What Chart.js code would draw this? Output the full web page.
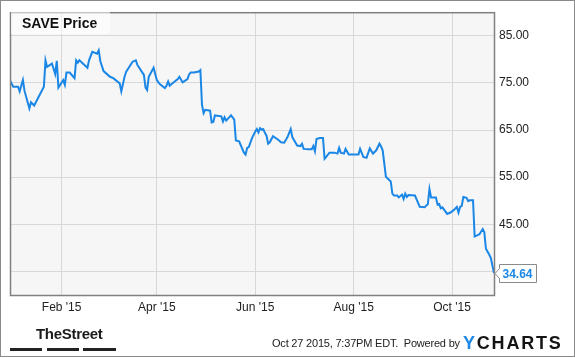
<!DOCTYPE html>
<html>
<head>
<meta charset="utf-8">
<script src="https://cdn.jsdelivr.net/npm/chart.js@4.4.1/dist/chart.umd.min.js"></script>
<style>
  body { margin: 0; background: #fff; }
  #wrap { position: relative; width: 575px; height: 358px; font-family: "Liberation Sans", Arial, sans-serif; }
  #wrap canvas { position: absolute; left: 0; top: 0; }
  .title { position: absolute; left: 11px; top: 11px; width: 99px; height: 23px; background: rgba(255,255,255,0.55); }
  .title span { position: absolute; left: 11px; top: 5px; font: bold 14px/14px "Liberation Sans", Arial, sans-serif; color: #111; }
  .street { position: absolute; left: 36px; top: 326px; font: bold 15px/15px "Liberation Sans Narrow", "Liberation Sans", sans-serif; color: #1a1a1a; letter-spacing: -0.3px; }
  .bar { position: absolute; top: 348px; height: 3px; background: #222; }
  .stamp { position: absolute; left: 272px; top: 338px; font: 11px/11px "Liberation Sans", Arial, sans-serif; color: #222; white-space: pre; letter-spacing: -0.2px; }
  .ycharts { position: absolute; left: 463px; top: 334px; font: bold 18px/18px "Liberation Sans", Arial, sans-serif; color: #141414; letter-spacing: 1.8px; }
  .ycharts b { color: #1e88e5; }
</style>
</head>
<body>
<div id="wrap">
  <canvas id="priceChart" width="575" height="358"></canvas>
  <div class="title"><span>SAVE Price</span></div>
  <div class="street">TheStreet</div>
  <div class="bar" style="left:10px;width:32px"></div>
  <div class="bar" style="left:47px;width:32px"></div>
  <div class="bar" style="left:83px;width:33px"></div>
  <div class="stamp">Oct 27 2015, 7:37PM EDT.  Powered by</div>
  <div class="ycharts"><b>Y</b>CHARTS</div>
</div>
<script>
// SAVE closing prices
const dates = [
  "2014-12-31", "2015-01-02", "2015-01-05", "2015-01-06", "2015-01-08", "2015-01-09", "2015-01-12", "2015-01-13",
  "2015-01-15", "2015-01-21", "2015-01-22", "2015-01-23", "2015-01-26", "2015-01-28", "2015-01-29", "2015-01-30",
  "2015-02-02", "2015-02-03", "2015-02-04", "2015-02-06", "2015-02-09", "2015-02-10", "2015-02-11", "2015-02-12",
  "2015-02-17", "2015-02-18", "2015-02-20", "2015-02-23", "2015-02-24", "2015-02-25", "2015-02-27", "2015-03-03",
  "2015-03-05", "2015-03-09", "2015-03-10", "2015-03-12", "2015-03-13", "2015-03-17", "2015-03-19", "2015-03-20",
  "2015-03-24", "2015-03-25", "2015-03-26", "2015-03-27", "2015-03-30", "2015-04-01", "2015-04-02", "2015-04-03",
  "2015-04-06", "2015-04-07", "2015-04-08", "2015-04-09", "2015-04-10", "2015-04-14", "2015-04-15", "2015-04-17",
  "2015-04-20", "2015-04-21", "2015-04-22", "2015-04-24", "2015-04-27", "2015-04-28", "2015-04-29", "2015-04-30",
  "2015-05-01", "2015-05-04", "2015-05-05", "2015-05-06", "2015-05-07", "2015-05-11", "2015-05-12", "2015-05-13",
  "2015-05-14", "2015-05-17", "2015-05-19", "2015-05-20", "2015-05-22", "2015-05-25", "2015-05-26", "2015-05-27",
  "2015-05-28", "2015-05-30", "2015-06-01", "2015-06-02", "2015-06-03", "2015-06-04", "2015-06-05", "2015-06-06",
  "2015-06-07", "2015-06-08", "2015-06-09", "2015-06-10", "2015-06-12", "2015-06-15", "2015-06-17", "2015-06-19",
  "2015-06-21", "2015-06-23", "2015-06-24", "2015-06-26", "2015-06-27", "2015-06-29", "2015-06-30", "2015-07-01",
  "2015-07-04", "2015-07-06", "2015-07-07", "2015-07-08", "2015-07-09", "2015-07-11", "2015-07-13", "2015-07-14",
  "2015-07-15", "2015-07-17", "2015-07-20", "2015-07-22", "2015-07-23", "2015-07-24", "2015-07-26", "2015-07-27",
  "2015-07-29", "2015-08-01", "2015-08-04", "2015-08-05", "2015-08-07", "2015-08-09", "2015-08-11", "2015-08-13",
  "2015-08-15", "2015-08-17", "2015-08-18", "2015-08-19", "2015-08-21", "2015-08-24", "2015-08-25", "2015-08-26",
  "2015-08-28", "2015-08-29", "2015-08-31", "2015-09-01", "2015-09-02", "2015-09-03", "2015-09-04", "2015-09-08",
  "2015-09-11", "2015-09-14", "2015-09-16", "2015-09-17", "2015-09-18", "2015-09-21", "2015-09-22", "2015-09-23",
  "2015-09-24", "2015-09-25", "2015-09-28", "2015-09-30", "2015-10-02", "2015-10-04", "2015-10-05", "2015-10-06",
  "2015-10-07", "2015-10-08", "2015-10-10", "2015-10-11", "2015-10-12", "2015-10-14", "2015-10-15", "2015-10-18",
  "2015-10-20", "2015-10-21", "2015-10-22", "2015-10-24", "2015-10-25", "2015-10-27"
];
const prices = [
  75.5, 74.2, 74.2, 73.2, 75.6, 73.3, 69.6, 70.9,
  70.2, 74.2, 79.8, 78.4, 79.1, 76.9, 79.7, 74.0,
  75.6, 74.6, 77.2, 77.2, 76.0, 79.8, 79.3, 79.8,
  78.2, 79.8, 81.6, 81.2, 81.9, 79.6, 77.5, 76.3,
  76.0, 74.9, 73.2, 76.3, 77.4, 79.5, 79.8, 78.8,
  76.7, 74.0, 73.5, 76.3, 78.2, 75.6, 75.1, 74.7,
  73.9, 74.4, 75.3, 74.4, 74.7, 75.8, 76.3, 75.1,
  75.8, 76.8, 77.2, 77.2, 77.4, 77.7, 70.4, 68.6,
  69.3, 69.1, 66.6, 66.7, 68.1, 67.9, 66.8, 67.7,
  67.0, 68.1, 67.2, 62.8, 62.6, 60.2, 59.8, 61.2,
  61.4, 63.3, 64.7, 65.2, 64.5, 65.4, 65.1, 65.2,
  64.4, 63.8, 62.1, 62.4, 63.7, 63.0, 62.4, 62.3,
  63.5, 65.2, 63.5, 62.3, 61.7, 61.6, 62.1, 61.0,
  60.9, 60.9, 61.6, 60.5, 63.1, 63.3, 63.3, 58.9,
  59.3, 60.2, 60.2, 60.0, 61.2, 60.2, 60.0, 61.0,
  59.8, 59.8, 59.8, 61.0, 59.3, 59.1, 61.1, 60.0,
  60.7, 62.1, 61.5, 60.7, 55.1, 54.1, 51.5, 51.1,
  51.1, 50.7, 51.3, 50.4, 51.5, 50.8, 51.2, 51.1,
  48.7, 48.6, 49.3, 52.5, 50.7, 50.7, 49.2, 49.3,
  48.4, 48.6, 47.2, 47.5, 48.0, 48.7, 47.5, 48.7,
  48.9, 50.8, 50.6, 49.9, 50.1, 50.1, 42.4, 42.9,
  44.0, 43.3, 39.8, 38.6, 37.9, 34.64
];

const tickDates = ["2015-02-01", "2015-04-01", "2015-06-01", "2015-08-01", "2015-10-01"];
const tickLabels = ["Feb '15", "Apr '15", "Jun '15", "Aug '15", "Oct '15"];
const priceTicks = [35, 45, 55, 65, 75, 85];
const startDate = "2014-12-31";
const endDate = "2015-10-27";

const dayOf = (s) => {
  const [y, m, d] = s.split("-").map(Number);
  return (Date.UTC(y, m - 1, d) - Date.UTC(2015, 0, 1)) / 86400000;
};

const lineBlue = "#1a87e6";

const plotFrame = {
  id: "plotFrame",
  beforeDraw(chart) {
    const { ctx, chartArea: a } = chart;
    ctx.save();
    ctx.fillStyle = "#fff";
    ctx.fillRect(0, 0, chart.width, chart.height);
    ctx.strokeStyle = "#8a8a8a";
    ctx.lineWidth = 1;
    ctx.strokeRect(0.5, 0.5, 574, 356);
    ctx.fillStyle = "#f6f6f6";
    ctx.fillRect(a.left, a.top, a.right - a.left, a.bottom - a.top);
    ctx.restore();
  },
  afterDraw(chart) {
    const { ctx, chartArea: a, scales } = chart;
    ctx.save();
    ctx.strokeStyle = "#808080";
    ctx.lineWidth = 1.5;
    ctx.strokeRect(a.left + 0.5, a.top + 0.5, a.right - a.left, a.bottom - a.top);

    // last value tag
    const last = prices[prices.length - 1];
    const py = Math.round(scales.y.getPixelForValue(last)) + 0.5;
    const px = a.right + 1;
    const bx = px + 4.5, bw = 37, bh = 18;
    ctx.beginPath();
    ctx.moveTo(px, py);
    ctx.lineTo(bx, py - 5);
    ctx.lineTo(bx, py - bh / 2);
    ctx.lineTo(bx + bw, py - bh / 2);
    ctx.lineTo(bx + bw, py + bh / 2);
    ctx.lineTo(bx, py + bh / 2);
    ctx.lineTo(bx, py + 5);
    ctx.closePath();
    ctx.fillStyle = "#fff";
    ctx.fill();
    ctx.strokeStyle = "#8a8a8a";
    ctx.lineWidth = 1;
    ctx.stroke();
    ctx.fillStyle = lineBlue;
    ctx.font = "bold 12px 'Liberation Sans', Arial, sans-serif";
    ctx.textBaseline = "middle";
    ctx.fillText(last.toFixed(2), bx + 3, py + 1);
    ctx.restore();
  }
};

new Chart(document.getElementById("priceChart"), {
  type: "line",
  data: {
    datasets: [{
      label: "SAVE Price",
      data: dates.map((d, i) => ({ x: dayOf(d), y: prices[i] })),
      borderColor: lineBlue,
      borderWidth: 2,
      pointRadius: 0,
      tension: 0,
      fill: false
    }]
  },
  options: {
    responsive: false,
    animation: false,
    layout: { padding: { left: 10, top: 10, right: 0, bottom: 0 } },
    plugins: { legend: { display: false }, tooltip: { enabled: false } },
    scales: {
      x: {
        type: "linear",
        min: dayOf(startDate),
        max: dayOf(endDate),
        afterBuildTicks: (s) => { s.ticks = tickDates.map((d) => ({ value: dayOf(d) })); },
        afterFit: (s) => { s.height = 63; },
        grid: { color: "#d8d8d8", drawTicks: false },
        border: { display: false },
        ticks: {
          autoSkip: false,
          maxRotation: 0,
          padding: 5,
          color: "#222",
          font: { family: "'Liberation Sans', Arial, sans-serif", size: 12 },
          callback: (v, i) => tickLabels[i]
        }
      },
      y: {
        position: "right",
        min: 30,
        max: 90,
        afterBuildTicks: (s) => { s.ticks = priceTicks.map((v) => ({ value: v })); },
        afterFit: (s) => { s.width = 81; },
        grid: { color: "#d8d8d8", drawTicks: false },
        border: { display: false },
        ticks: {
          padding: 5,
          color: "#222",
          font: { family: "'Liberation Sans', Arial, sans-serif", size: 12 },
          callback: (v) => (v === 35 ? "" : v.toFixed(2))
        }
      }
    }
  },
  plugins: [plotFrame]
});
</script>
</body>
</html>
